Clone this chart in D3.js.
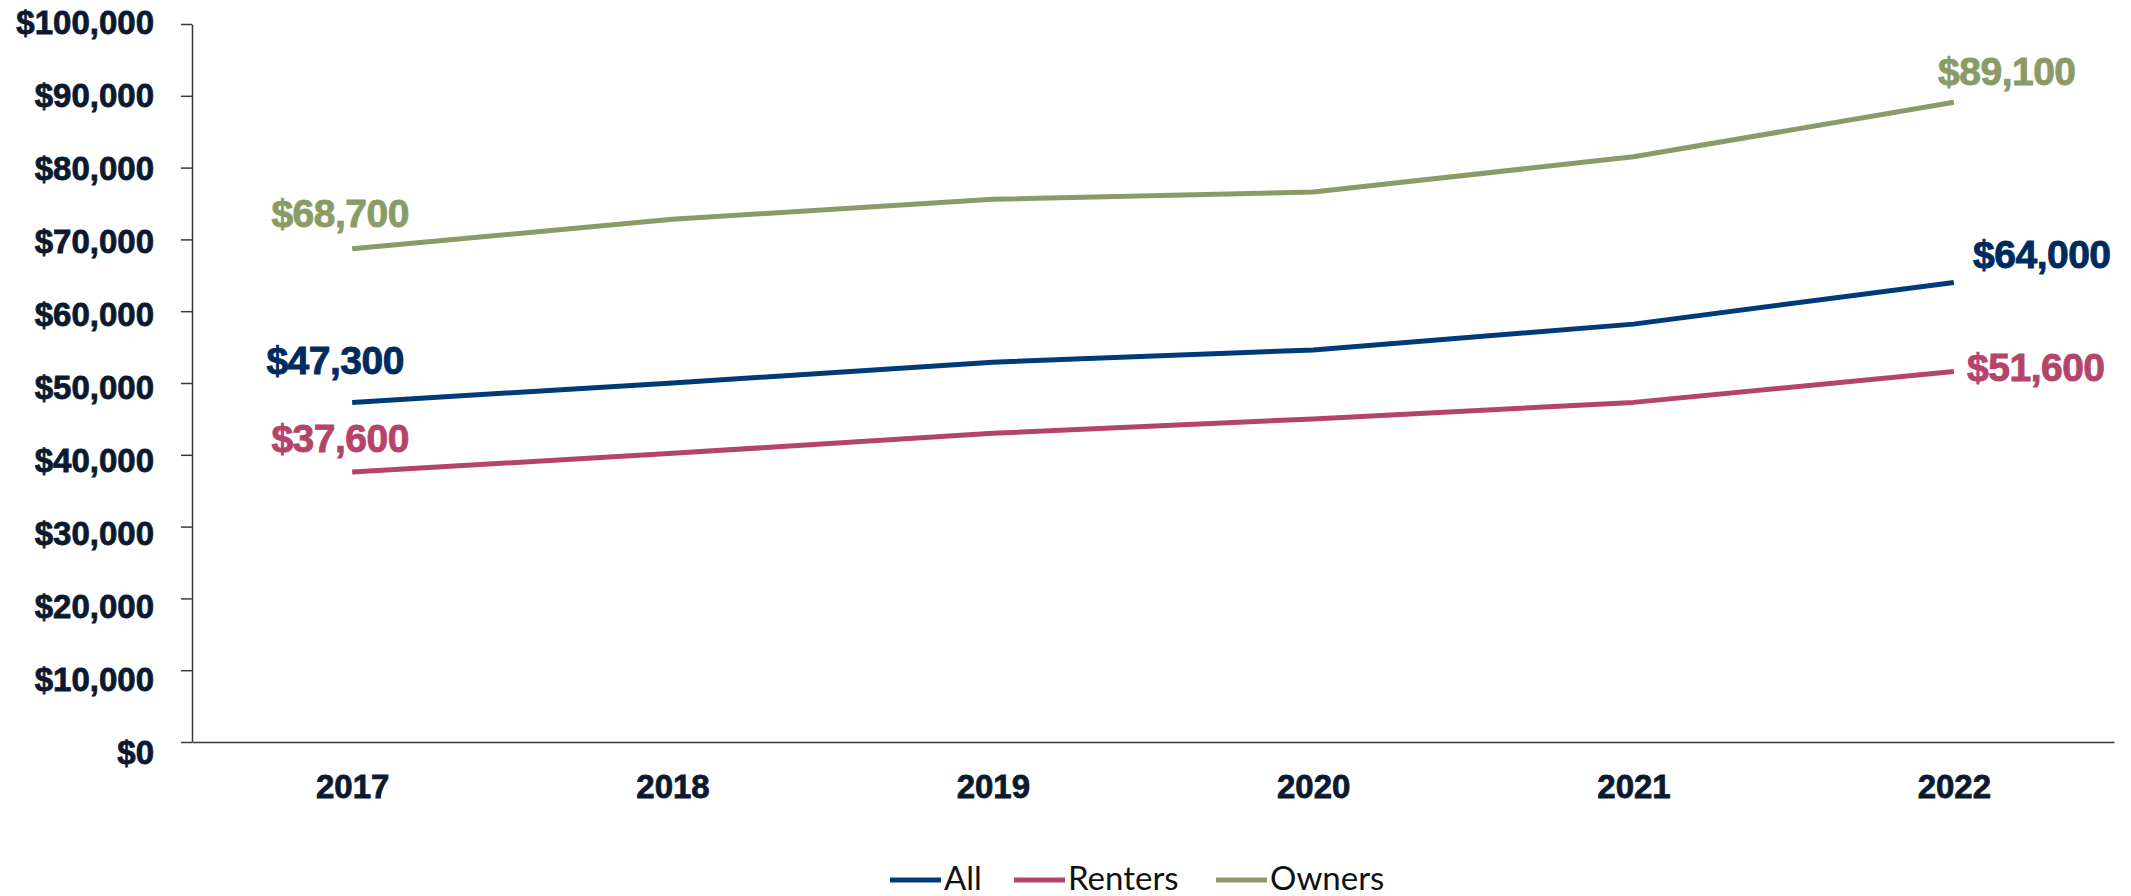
<!DOCTYPE html>
<html>
<head>
<meta charset="utf-8">
<script src="https://cdn.jsdelivr.net/npm/d3@7"></script>
<style>
  html, body { margin: 0; padding: 0; background: #fff; }
  svg { display: block; }
</style>
</head>
<body>
<svg id="chart" width="2131" height="896"></svg>
<script>
// Median household income by tenure, 2017–2022
const years = ["2017", "2018", "2019", "2020", "2021", "2022"];
const allHouseholds = [47300, 50000, 52900, 54600, 58200, 64000];
const renters = [37600, 40200, 43000, 45000, 47300, 51600];
const owners = [68700, 72800, 75600, 76600, 81500, 89100];
const seriesNames = ["All", "Renters", "Owners"];
const yTicks = [0, 10000, 20000, 30000, 40000, 50000, 60000, 70000, 80000, 90000, 100000];

const series = [
  { name: seriesNames[0], values: allHouseholds, color: "#003a78", labelColor: "#002b5e" },
  { name: seriesNames[1], values: renters, color: "#b5446a", labelColor: "#b5446a" },
  { name: seriesNames[2], values: owners, color: "#8a9b68", labelColor: "#8a9b68" }
];

// end-label offsets (first point, last point) relative to the data point
const labelOffsets = {
  All:     [[-17, -28], [88, -14]],
  Renters: [[-12, -20], [82, 9]],
  Owners:  [[-12, -22], [53, -17]]
};

const svg = d3.select("#chart");
const plotLeft = 192, plotRight = 2114, plotTop = 24, plotBottom = 742;
const axisColor = "#3a3a3a";
const textColor = "#0c1a30";
const boldFont = "'Liberation Sans', Arial, sans-serif";

const x = d3.scalePoint().domain(years).range([plotLeft, plotRight]).padding(0.5);
const y = d3.scaleLinear().domain([0, 100000]).range([plotBottom, plotTop]);

// y axis
const fmt = d3.format(",");
const labelShift = d3.scaleLinear().domain([0, 100000]).range([11.2, -1.4]);
const yAxis = svg.append("g")
  .attr("transform", `translate(${plotLeft},0)`)
  .call(d3.axisLeft(y).tickValues(yTicks).tickSize(11).tickSizeOuter(0)
    .tickPadding(27).tickFormat(d => "$" + fmt(d)));
yAxis.select(".domain").attr("stroke", axisColor).attr("stroke-width", 1.5);
yAxis.selectAll(".tick line").attr("stroke", axisColor).attr("stroke-width", 1.5);
yAxis.selectAll(".tick text")
  .attr("y", d => labelShift(d))
  .attr("fill", textColor)
  .attr("stroke", textColor)
  .attr("stroke-width", 0.8)
  .style("font-family", boldFont)
  .style("font-weight", "bold")
  .style("font-size", "33px");

// x axis
const xAxis = svg.append("g")
  .attr("transform", `translate(0,${plotBottom})`)
  .call(d3.axisBottom(x).tickSize(0).tickSizeOuter(0).tickPadding(33));
xAxis.select(".domain").attr("stroke", axisColor).attr("stroke-width", 1.5);
xAxis.selectAll(".tick text")
  .attr("fill", textColor)
  .attr("stroke", textColor)
  .attr("stroke-width", 0.8)
  .style("font-family", boldFont)
  .style("font-weight", "bold")
  .style("font-size", "33px");

// series lines
const line = d3.line().x((d, i) => x(years[i])).y(d => y(d));
svg.append("g").selectAll("path")
  .data(series)
  .join("path")
  .attr("d", d => line(d.values))
  .attr("fill", "none")
  .attr("stroke", d => d.color)
  .attr("stroke-width", 5)
  .attr("stroke-linejoin", "round");

// value labels at first and last year
const labels = [];
series.forEach(s => {
  [0, years.length - 1].forEach((idx, k) => {
    labels.push({ s, idx, off: labelOffsets[s.name][k] });
  });
});
svg.append("g").selectAll("text")
  .data(labels)
  .join("text")
  .attr("x", d => x(years[d.idx]) + d.off[0])
  .attr("y", d => y(d.s.values[d.idx]) + d.off[1])
  .attr("text-anchor", "middle")
  .attr("fill", d => d.s.labelColor)
  .attr("stroke", d => d.s.labelColor)
  .attr("stroke-width", 0.9)
  .style("font-family", boldFont)
  .style("font-weight", "bold")
  .style("font-size", "39px")
  .style("letter-spacing", "-0.5px")
  .text(d => "$" + fmt(d.s.values[d.idx]));

// legend
const legendX = [890, 1014, 1216];
const legend = svg.append("g").selectAll("g")
  .data(series)
  .join("g")
  .attr("transform", (d, i) => `translate(${legendX[i]},880)`);
legend.append("line")
  .attr("x1", 0).attr("x2", 51).attr("y1", 0).attr("y2", 0)
  .attr("stroke", d => d.color).attr("stroke-width", 5);
legend.append("text")
  .attr("x", 54).attr("y", 10)
  .attr("fill", "#111")
  .style("font-family", "Lato, 'Open Sans', sans-serif")
  .style("font-size", "33px")
  .text(d => d.name);
</script>
</body>
</html>
